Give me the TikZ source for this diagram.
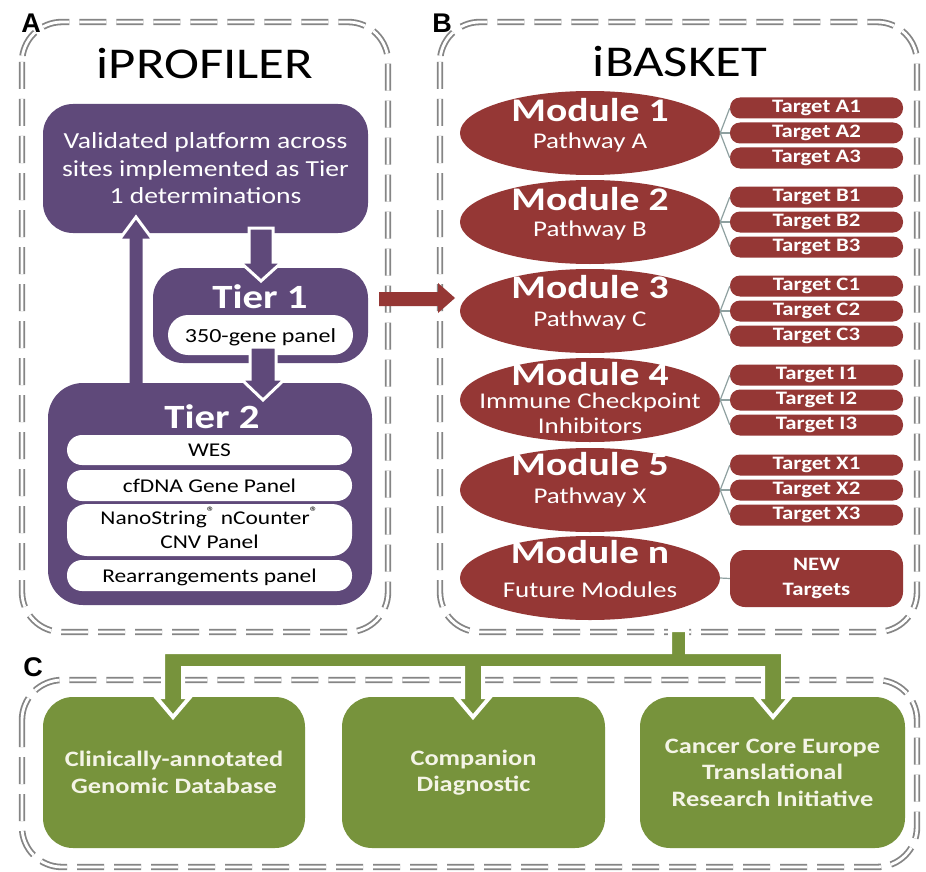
\documentclass[tikz,border=0pt]{standalone}
\usepackage{fontspec}
\setmainfont[FakeStretch=1.2]{Carlito}
\newfontfamily\labelfont{Liberation Sans}
\usetikzlibrary{shapes.geometric,calc}
\definecolor{pur}{HTML}{5F497A}
\definecolor{dred}{HTML}{953735}
\definecolor{olive}{HTML}{77933C}
\definecolor{panelgray}{HTML}{858585}
\definecolor{conngray}{HTML}{8FA0A0}
\definecolor{cream}{HTML}{F4F4E6}
\tikzset{
  panel/.style={draw=panelgray, line width=1.8, double=white, double distance=2.8,
    dash pattern=on 27 off 10, rounded corners=40},
  pbox/.style={rectangle, fill=pur, rounded corners=30, inner sep=0},
  wpill/.style={rectangle, fill=white, rounded corners=15, inner sep=0, minimum width=285},
  module/.style={ellipse, fill=dred, minimum width=260, minimum height=84, inner sep=0},
  target/.style={rectangle, fill=dred, rounded corners=10, minimum width=173, minimum height=21,
    inner sep=0, text=white, font=\bfseries\fontsize{19}{19}\selectfont},
  gbox/.style={rectangle, fill=olive, rounded corners=30, minimum height=151, inner sep=0,
    text=cream, align=center, font=\bfseries\fontsize{22}{26.5}\selectfont},
  modt/.style={text=white, font=\bfseries\fontsize{33}{33}\selectfont, anchor=base, inner sep=0},
  mods/.style={text=white, font=\fontsize{22.5}{22.5}\selectfont, anchor=base, inner sep=0},
  ptext/.style={text=black, font=\fontsize{19.5}{19.5}\selectfont, anchor=base, inner sep=0},
  conn/.style={draw=conngray, line width=1.2},
  parrow/.style={fill=pur, draw=white, line width=3, line join=miter},
  garrow/.style={fill=olive, draw=white, line width=4, line join=miter},
  plabel/.style={font=\labelfont\bfseries\fontsize{27}{27}\selectfont, inner sep=0},
  title/.style={font=\fontsize{44}{44}\selectfont, anchor=base, inner sep=0}
}
\begin{document}
\begin{tikzpicture}[x=1pt,y=-1pt]
\useasboundingbox (0,0) rectangle (926,872);
\fill[white] (0,0) rectangle (926,872);

% panels
\draw[panel] (22,22) rectangle (388,632);
\draw[panel] (440,22) rectangle (917,632);
\draw[panel] (22,680) rectangle (917,867);

% panel labels
\node[plabel] (labA) at (31,23) {A};
\node[plabel] (labB) at (442,23) {B};
\node[plabel] (labC) at (33,667) {C};

% titles
\node[title] (tprof) at (205,79) {iPROFILER};
\node[title] (tbask) at (680,77) {iBASKET};

% ---------- iPROFILER ----------
\node[pbox, minimum width=325, minimum height=129, text=white, align=center,
      font=\fontsize{23}{27.5}\selectfont] (valid) at (205.5,168.5)
      {Validated platform across\\sites implemented as Tier\\1 determinations};
\node[pbox, minimum width=215, minimum height=95] (tier1) at (260.5,315.5) {};
\node[text=white, font=\bfseries\fontsize{34}{34}\selectfont, anchor=base, inner sep=0] (tier1t) at (260,308) {Tier 1};
\node[wpill, minimum width=185, minimum height=40, rounded corners=20] (p350) at (260.5,335) {};
\node[ptext, font=\fontsize{20}{20}\selectfont] (p350t) at (260.5,342) {350-gene panel};

% up arrow tier2 -> validated (under tier 2 box)
\filldraw[parrow] (128,395) -- (128,240) -- (119,240) -- (136,217) -- (153,240) -- (144,240) -- (144,395) -- cycle;

\node[pbox, minimum width=324, minimum height=222, rounded corners=35] (tier2) at (210,494) {};
\node[text=white, font=\bfseries\fontsize{34}{34}\selectfont, anchor=base, inner sep=0] (tier2t) at (212,428) {Tier 2};
\node[wpill, minimum height=30] (wes) at (209.5,450) {};
\node[ptext] (west) at (209.5,456.5) {WES};
\node[wpill, minimum height=31] (cfdna) at (209.5,485.5) {};
\node[ptext] (cfdnat) at (209.5,492) {cfDNA Gene Panel};
\node[wpill, minimum height=52, rounded corners=20] (nano) at (209.5,530) {};
\node[ptext] (nanot1) at (209.5,524) {NanoString\textsuperscript{\textregistered} nCounter\textsuperscript{\textregistered}};
\node[ptext] (nanot2) at (209.5,548) {CNV Panel};
\node[wpill, minimum height=31] (rearr) at (209.5,575.5) {};
\node[ptext] (rearrt) at (209.5,582) {Rearrangements panel};

% down arrows
\filldraw[parrow] (249,228) -- (273,228) -- (273,262) -- (282,262) -- (261,281) -- (240,262) -- (249,262) -- cycle;
\filldraw[parrow] (250,347) -- (276,347) -- (276,379) -- (285,379) -- (263,400) -- (241,379) -- (250,379) -- cycle;

% red arrow to module 3
\fill[dred] (379,292) -- (438,292) -- (438,283) -- (455,298) -- (438,313) -- (438,306) -- (379,306) -- cycle;

% ---------- iBASKET ----------
\foreach \i/\yy/\L in {1/133/A, 2/222/B, 3/311/C, 4/400/I, 5/490/X} {
  \node[module] (m\i) at (590,\yy) {};
  \foreach \k/\dy in {1/-25, 2/0, 3/25} {
    \node[target] (t\i\k) at (816.5,{\yy+\dy}) {Target \L\k};
    \draw[conn] (m\i.east) -- (t\i\k.west);
  }
}
\node[module] (mn) at (590,578) {};
\node[rectangle, fill=dred, rounded corners=15, minimum width=173, minimum height=57, inner sep=0,
      text=white, align=center, font=\bfseries\fontsize{19}{25}\selectfont] (newt) at (816.5,578.5) {NEW\\Targets};
\draw[conn] (mn.east) -- (newt.west);

\node[modt] (m1t) at ($(m1)+(0,-11)$) {Module 1};
\node[mods] (m1s) at ($(m1)+(0,15)$) {Pathway A};
\node[modt] (m2t) at ($(m2)+(0,-12)$) {Module 2};
\node[mods] (m2s) at ($(m2)+(0,14)$) {Pathway B};
\node[modt] (m3t) at ($(m3)+(0,-13)$) {Module 3};
\node[mods] (m3s) at ($(m3)+(0,15)$) {Pathway C};
\node[modt] (m4t) at ($(m4)+(0,-15)$) {Module 4};
\node[mods] (m4s) at ($(m4)+(0,8)$) {Immune Checkpoint};
\node[mods] (m4u) at ($(m4)+(0,33)$) {Inhibitors};
\node[modt] (m5t) at ($(m5)+(0,-15)$) {Module 5};
\node[mods] (m5s) at ($(m5)+(0,13)$) {Pathway X};
\node[modt] (mnt) at ($(mn)+(0,-15)$) {Module n};
\node[mods] (mns) at ($(mn)+(0,19)$) {Future Modules};

% ---------- outputs ----------
\node[gbox, minimum width=262] (g1) at (174,772.5) {Clinically-annotated\\Genomic Database};
\node[gbox, minimum width=263] (g2) at (473.5,772.5) {Companion\\Diagnostic};
\node[gbox, minimum width=265] (g3) at (772.5,772.5) {Cancer Core Europe\\Translational\\Research Initiative};

\filldraw[garrow] (670,630) -- (687,630) -- (687,652) -- (783,652) -- (783,697) -- (790,697) -- (773,717)
  -- (756,697) -- (763,697) -- (763,668) -- (483,668) -- (483,697) -- (490,697) -- (473,717)
  -- (456,697) -- (463,697) -- (463,668) -- (183,668) -- (183,697) -- (190,697) -- (173,717)
  -- (156,697) -- (163,697) -- (163,652) -- (670,652) -- cycle;
\end{tikzpicture}
\end{document}
